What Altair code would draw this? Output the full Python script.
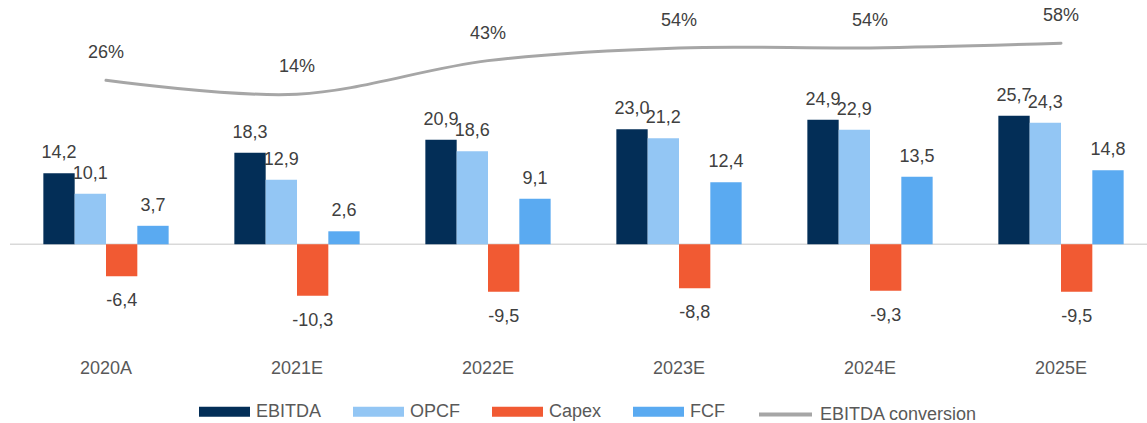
import altair as alt
import pandas as pd

# ---- data -------------------------------------------------------------
years = ["2020A", "2021E", "2022E", "2023E", "2024E", "2025E"]
ebitda = [14.2, 18.3, 20.9, 23.0, 24.9, 25.7]
opcf = [10.1, 12.9, 18.6, 21.2, 22.9, 24.3]
capex = [-6.4, -10.3, -9.5, -8.8, -9.3, -9.5]
fcf = [3.7, 2.6, 9.1, 12.4, 13.5, 14.8]
conversion = [26, 14, 43, 54, 54, 58]  # EBITDA conversion, %

series_names = ["EBITDA", "OPCF", "Capex", "FCF"]
series_colors = ["#032E57", "#93C6F4", "#F15A33", "#5AAAF1"]
line_name = "EBITDA conversion"
line_color = "#A6A6A6"

FONT = "Liberation Sans"
VALUE_COLOR = "#404040"
AXIS_COLOR = "#595959"

rows = []
for name, vals in zip(series_names, [ebitda, opcf, capex, fcf]):
    for yr, v in zip(years, vals):
        rows.append({"year": yr, "series": name, "value": v,
                     "label": f"{v:.1f}".replace(".", ",")})
bars_df = pd.DataFrame(rows)

conv_df = pd.DataFrame({
    "year": years,
    "conv": conversion,
    "series": [line_name] * len(years),
    "label": [f"{c}%" for c in conversion],
})

# ---- layout -----------------------------------------------------------
W, H = 1137, 340

x_scale = alt.Scale(domain=years, range=[0.5, 1146.5],
                    paddingInner=0.344, paddingOuter=0.172)
x_enc = alt.X("year:N", scale=x_scale, sort=years,
              axis=alt.Axis(title=None, labelAngle=0, ticks=False, tickSize=0,
                            domain=False, grid=False, labelFontSize=18,
                            labelColor=AXIS_COLOR, labelFont=FONT,
                            labelPadding=19))
xoff_enc = alt.XOffset("series:N", sort=series_names,
                       scale=alt.Scale(domain=series_names, paddingInner=0,
                                       paddingOuter=0))

y_bar_scale = alt.Scale(domain=[-19.14, 48.86], nice=False)
y_line_scale = alt.Scale(domain=[-198.0, 95.3], nice=False, zero=False)

base = alt.Chart(bars_df)

zero_rule = alt.Chart(pd.DataFrame({"z": [0]})).mark_rule(
    color="#D9D9D9", strokeWidth=1.5
).encode(
    y=alt.Y("z:Q", scale=y_bar_scale, axis=None),
    x=alt.value(0),
    x2=alt.value(W),
)

bars = base.mark_bar(opacity=1).encode(
    x=x_enc,
    xOffset=xoff_enc,
    y=alt.Y("value:Q", scale=y_bar_scale, axis=None),
    y2=alt.datum(0),
    color=alt.Color(
        "series:N",
        scale=alt.Scale(domain=series_names, range=series_colors),
        legend=alt.Legend(
            title=None, orient="none", legendX=189, legendY=386,
            direction="horizontal", columns=4,
            symbolType="M-1,-0.2H1V0.2H-1Z", symbolSize=2601,
            symbolStrokeWidth=0, symbolOpacity=1,
            labelFontSize=18, labelColor=AXIS_COLOR, labelFont=FONT,
            labelOffset=6, columnPadding=31, padding=0,
        ),
    ),
)

text_pos = base.transform_filter("datum.value >= 0").mark_text(
    baseline="alphabetic", align="center", dy=-15, fontSize=18,
    font=FONT, color=VALUE_COLOR
).encode(
    x=x_enc, xOffset=xoff_enc,
    y=alt.Y("value:Q", scale=y_bar_scale, axis=None),
    text="label:N",
)

text_neg = base.transform_filter("datum.value < 0").mark_text(
    baseline="alphabetic", align="center", dy=30, fontSize=18,
    font=FONT, color=VALUE_COLOR
).encode(
    x=x_enc, xOffset=xoff_enc,
    y=alt.Y("value:Q", scale=y_bar_scale, axis=None),
    text="label:N",
)

bar_group = alt.layer(zero_rule, bars, text_pos, text_neg)

line = alt.Chart(conv_df).mark_line(
    interpolate="catmull-rom", strokeWidth=3, strokeCap="round"
).encode(
    x=x_enc,
    y=alt.Y("conv:Q", scale=y_line_scale, axis=None),
    stroke=alt.Stroke(
        "series:N",
        scale=alt.Scale(domain=[line_name], range=[line_color]),
        legend=alt.Legend(
            title=None, orient="none", legendX=747, legendY=386,
            direction="horizontal", symbolType="stroke", symbolSize=2809,
            symbolStrokeWidth=4, labelFontSize=18, labelColor=AXIS_COLOR,
            labelFont=FONT, labelOffset=6, padding=0,
        ),
    ),
)

line_text = alt.Chart(conv_df).mark_text(
    baseline="alphabetic", align="center", dy=-22, fontSize=18,
    font=FONT, color=VALUE_COLOR
).encode(
    x=x_enc,
    y=alt.Y("conv:Q", scale=y_line_scale, axis=None),
    text="label:N",
)

line_group = alt.layer(line, line_text)

chart = alt.layer(bar_group, line_group).resolve_scale(
    y="independent"
).properties(
    width=W, height=H,
    padding={"left": 10, "top": 0, "right": 0, "bottom": 83},
    autosize=alt.AutoSizeParams(type="none"),
    background="white",
).configure_view(stroke=None)

chart.save("out.html", embed_options={"renderer": "svg", "actions": False})
